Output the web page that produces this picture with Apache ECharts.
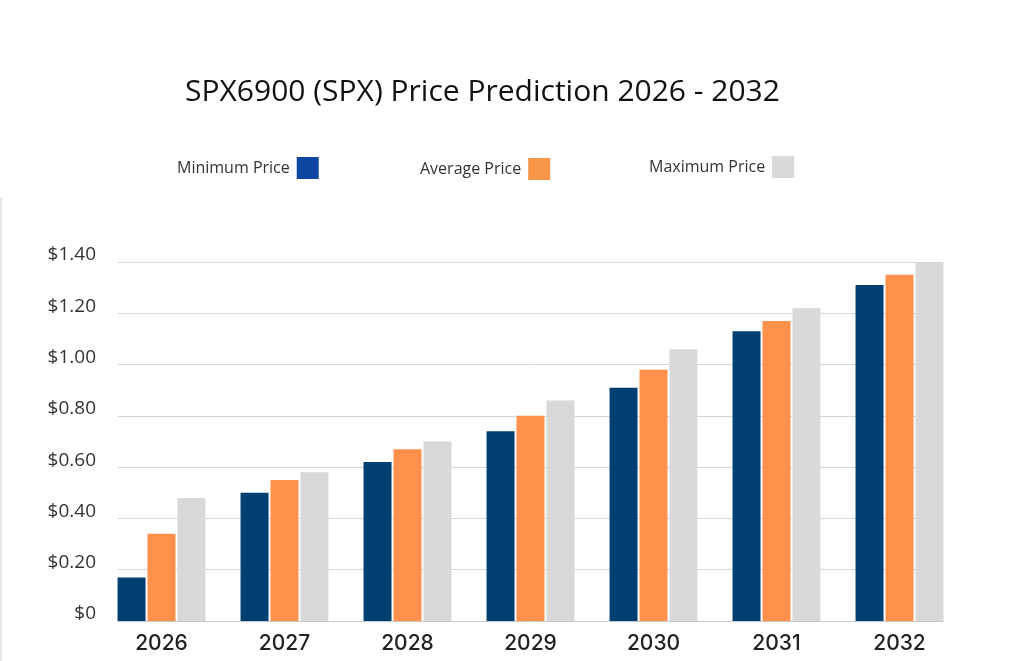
<!DOCTYPE html>
<html>
<head>
    <meta charset="utf-8">
    <title>SPX6900 Price Prediction</title>
    <script src="https://cdn.jsdelivr.net/npm/echarts@6/dist/echarts.min.js"></script>
    <style>
        html, body { margin: 0; padding: 0; background: #fff; }
    </style>
</head>
<body>
    <div id="main" style="width: 1024px;height:661px;"></div>
    <script type="text/javascript">
        // data
        var years = ['2026', '2027', '2028', '2029', '2030', '2031', '2032'];
        var minPrice = [0.17, 0.50, 0.62, 0.74, 0.91, 1.13, 1.31];
        var avgPrice = [0.34, 0.55, 0.67, 0.80, 0.98, 1.17, 1.35];
        var maxPrice = [0.48, 0.58, 0.70, 0.86, 1.06, 1.22, 1.40];
        var yTickLabels = ['$0', '$0.20', '$0.40', '$0.60', '$0.80', '$1.00', '$1.20', '$1.40'];

        var myChart = echarts.init(document.getElementById('main'));

        function oneLegend(name, color, left, top) {
            return {
                data: [{ name: name, itemStyle: { color: color, borderRadius: 3 } }],
                left: left,
                top: top,
                align: 'right',
                icon: 'rect',
                itemWidth: 22,
                itemHeight: 22,
                selectedMode: false,
                textStyle: { fontFamily: 'Open Sans', fontSize: 16, color: '#333', padding: [6, 2, 0, 0] }
            };
        }

        var option = {
            backgroundColor: '#fff',
            title: {
                text: 'SPX6900 (SPX) Price Prediction 2026 - 2032',
                left: 180,
                top: 72,
                textStyle: { fontFamily: 'Open Sans', fontSize: 30, fontWeight: 'normal', color: '#111' }
            },
            legend: [
                oneLegend('Minimum Price', '#0d47a1', 172, 152),
                oneLegend('Average Price', '#f79646', 415, 153),
                oneLegend('Maximum Price', '#d9d9d9', 644, 151)
            ],
            // grid 0 holds the gridlines and y labels, grid 1 holds the bars
            grid: [
                { left: 118, right: 81, top: 262, bottom: 40 },
                { left: 100, right: 63, top: 262, bottom: 40 }
            ],
            xAxis: [
                {
                    gridIndex: 0,
                    type: 'category',
                    data: years,
                    axisLine: { lineStyle: { color: '#c8c8c8' } },
                    axisTick: { show: false },
                    axisLabel: { show: false }
                },
                {
                    gridIndex: 1,
                    type: 'category',
                    data: years,
                    axisLine: { show: false },
                    axisTick: { show: false },
                    axisLabel: {
                        margin: 12,
                        fontFamily: 'Inter',
                        fontWeight: 500,
                        fontSize: 21,
                        color: '#222'
                    }
                }
            ],
            yAxis: [
                {
                    gridIndex: 0,
                    type: 'value',
                    min: 0,
                    max: 1.4,
                    interval: 0.2,
                    axisLine: { show: false },
                    axisTick: { show: false },
                    splitLine: { lineStyle: { color: '#d6d6d6' } },
                    axisLabel: {
                        margin: 22,
                        verticalAlign: 'bottom',
                        lineHeight: 14,
                        fontFamily: 'Open Sans',
                        fontSize: 19,
                        color: '#333',
                        formatter: function (v) { return yTickLabels[Math.round(v / 0.2)]; }
                    }
                },
                {
                    gridIndex: 1,
                    type: 'value',
                    min: 0,
                    max: 1.4,
                    show: false,
                    splitLine: { show: false }
                }
            ],
            series: [
                {
                    name: 'Minimum Price', type: 'bar', xAxisIndex: 1, yAxisIndex: 1,
                    barWidth: 28, barGap: '7%',
                    itemStyle: { color: '#003f72' },
                    data: minPrice
                },
                {
                    name: 'Average Price', type: 'bar', xAxisIndex: 1, yAxisIndex: 1,
                    barWidth: 28, barGap: '7%',
                    itemStyle: { color: '#ff914d' },
                    data: avgPrice
                },
                {
                    name: 'Maximum Price', type: 'bar', xAxisIndex: 1, yAxisIndex: 1,
                    barWidth: 28, barGap: '7%',
                    itemStyle: { color: '#d9d9d9' },
                    data: maxPrice
                }
            ],
            graphic: [
                {
                    type: 'line',
                    shape: { x1: 1, y1: 198, x2: 1, y2: 661 },
                    style: { stroke: '#e4e4e4', lineWidth: 2 },
                    silent: true
                }
            ]
        };

        myChart.setOption(option);
    </script>
</body>
</html>
